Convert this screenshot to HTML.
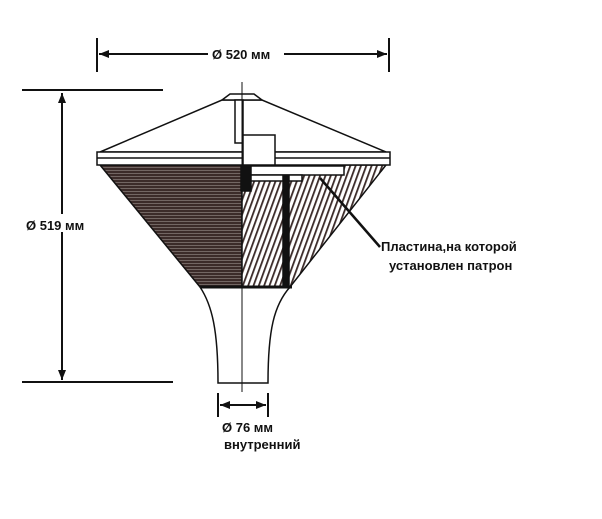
<!DOCTYPE html>
<html><head><meta charset="utf-8"><style>
html,body{margin:0;padding:0;background:#fff;}
svg{display:block;}
text{font-family:"Liberation Sans",sans-serif;font-weight:bold;fill:#111;}
</style></head><body>
<svg width="602" height="519" viewBox="0 0 602 519" xmlns="http://www.w3.org/2000/svg">
<defs>
<pattern id="hs" width="4" height="3" patternUnits="userSpaceOnUse">
<rect width="4" height="3" fill="#3b2b29"/><rect y="2.3" width="4" height="0.7" fill="#8a7f7c"/>
</pattern>
<pattern id="ds" width="5" height="5" patternUnits="userSpaceOnUse" patternTransform="rotate(20)">
<rect width="5" height="5" fill="#fff"/><rect width="1.8" height="5" fill="#3b2b29"/>
</pattern>
<marker id="ar" markerUnits="userSpaceOnUse" markerWidth="10" markerHeight="8" refX="10" refY="4" orient="auto-start-reverse"><path d="M0,0 L10,4 L0,8 z" fill="#111"/></marker>
</defs>
<g stroke="#111" stroke-width="2" fill="none">
<line x1="97" y1="38" x2="97" y2="72"/><line x1="389" y1="38" x2="389" y2="72"/>
<line x1="99" y1="54" x2="387" y2="54" marker-end="url(#ar)" marker-start="url(#ar)"/>
<line x1="22" y1="90" x2="163" y2="90"/><line x1="22" y1="382" x2="173" y2="382"/>
<line x1="62" y1="93" x2="62" y2="380" marker-end="url(#ar)" marker-start="url(#ar)"/>
<line x1="218" y1="393" x2="218" y2="417"/><line x1="268" y1="393" x2="268" y2="417"/>
<line x1="220" y1="405" x2="266" y2="405" marker-end="url(#ar)" marker-start="url(#ar)"/>
</g>
<rect x="208" y="46" width="76" height="16" fill="#fff"/>
<text x="212" y="59" font-size="13">Ø 520 мм</text>
<rect x="24" y="214" width="70" height="18" fill="#fff"/>
<text x="26" y="230" font-size="13">Ø 519 мм</text>
<text x="222" y="432" font-size="13">Ø 76 мм</text>
<text x="224" y="449" font-size="13">внутренний</text>
<text x="381" y="251" font-size="13">Пластина,на которой</text>
<text x="389" y="270" font-size="13">установлен патрон</text>
<g stroke="#111" stroke-width="1.5">
<path d="M100,165 L242,165 L242,287 L200,287 Z" fill="url(#hs)"/>
<path d="M242,165 L386,165 L290,287 L242,287 Z" fill="url(#ds)"/>
<rect x="244" y="166" width="100" height="9" fill="#fff"/>
<rect x="247" y="175" width="55" height="6" fill="#fff"/>
<rect x="241" y="163" width="10" height="28" fill="#111"/>
<rect x="283" y="176" width="6" height="112" fill="#111"/>
<path d="M100,152 L222,100 L262,100 L386,152 Z" fill="#fff"/>
<rect x="97" y="152" width="293" height="13" fill="#fff"/>
<line x1="97" y1="158" x2="390" y2="158"/>
<path d="M222,100 L230,94 L254,94 L262,100 Z" fill="#fff"/>
<rect x="235" y="100" width="8" height="43" fill="#fff"/>
<rect x="243" y="135" width="32" height="30" fill="#fff"/>
<path d="M200,287 C212,305 218,330 218,383 L268,383 C268,330 274,305 290,287" fill="#fff"/>
<line x1="242" y1="82" x2="242" y2="392" stroke-width="1"/>
<line x1="200" y1="287" x2="292" y2="287" stroke-width="3"/>
</g>
<line x1="320" y1="178" x2="380" y2="247" stroke="#111" stroke-width="2.5"/>
</svg>
</body></html>
